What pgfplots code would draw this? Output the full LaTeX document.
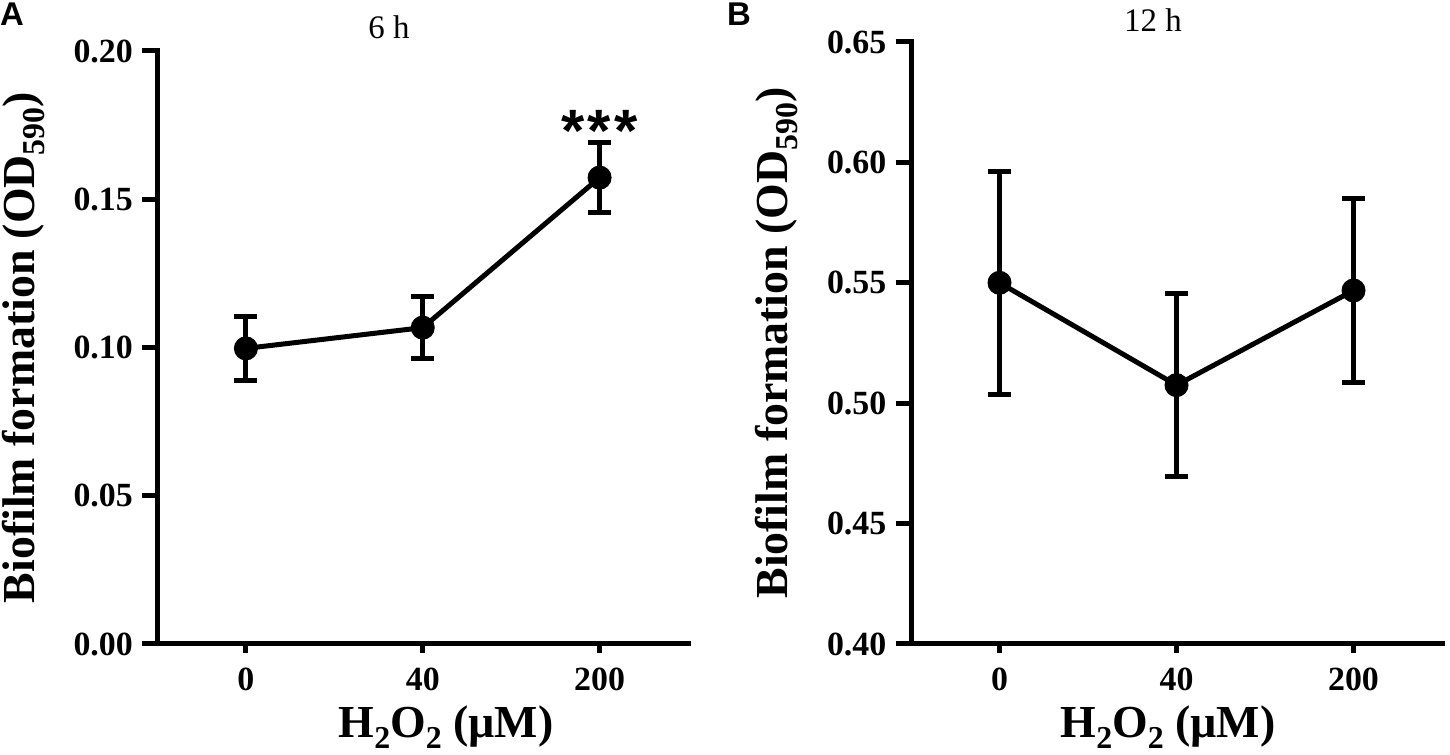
\documentclass[border=0pt]{standalone}
\usepackage{fontspec}
\setmainfont{Liberation Serif}
\newfontfamily\arialfont{Liberation Sans}
\usepackage{pgfplots}
\pgfplotsset{compat=1.18}
\newcommand\lab{\fontsize{46}{46}\selectfont\bfseries}
\newcommand\sub[1]{\raisebox{-0.22em}{\fontsize{32}{32}\selectfont\bfseries #1}}
\pgfplotsset{
  gp/.style={
    scale only axis,
    axis x line*=bottom,
    axis y line*=left,
    axis line style={-, line width=5bp, line cap=rect},
    tick align=outside,
    major tick length=15.5bp,
    x tick style={/pgfplots/major tick length=8.5bp},
    tick style={line width=5bp, black},
    xmin=-0.5, xmax=2.5,
    xtick={0,1,2},
    xticklabels={0,40,200},
    ticklabel style={font=\fontsize{34}{34}\selectfont\bfseries},
    /pgf/number format/assume math mode=true,
    yticklabel style={inner sep=0pt, xshift=-9bp},
    xticklabel style={inner sep=0pt, yshift=-8bp},
  },
  gpplot/.style={
    black, line width=5bp,
    mark=*, mark size=11.5bp,
    mark options={solid, fill=black, line width=1bp},
    error bars/.cd, y dir=both, y explicit,
    error bar style={line width=5bp},
    error mark=|,
    error mark options={line width=5bp, mark size=11.5bp},
  },
}
\begin{document}
\begin{tikzpicture}[x=1bp,y=1bp]
\path[use as bounding box, fill=white] (0,0) rectangle (1450,754);
\begin{axis}[gp,
  at={(157.5bp,110bp)}, anchor=south west,
  width=530.5bp, height=593bp,
  ymin=0, ymax=0.2,
  ytick={0,0.05,0.1,0.15,0.2},
  yticklabels={0.00,0.05,0.10,0.15,0.20},
  xlabel={\lab H\sub{2}O\sub{2} (µM)},
  xlabel style={at={(axis description cs:0.544,-0.1585)}, anchor=base},
  ylabel={\lab Biofilm formation (OD\sub{590})},
  ylabel style={at={(axis description cs:-0.2517,0.5)}, anchor=center},
]
\addplot[gpplot] coordinates {
  (0,0.0997) +- (0,0.0107)
  (1,0.1067) +- (0,0.0104)
  (2,0.1573) +- (0,0.0118)
};
\node[anchor=base, font=\arialfont\bfseries\fontsize{60}{60}\selectfont, inner sep=0pt] at (axis cs:2,0.1662) {*\kern3bp*\kern3bp*};
\end{axis}
\begin{axis}[gp,
  at={(911bp,110bp)}, anchor=south west,
  width=531bp, height=602bp,
  ymin=0.4, ymax=0.65,
  ytick={0.4,0.45,0.5,0.55,0.6,0.65},
  yticklabels={0.40,0.45,0.50,0.55,0.60,0.65},
  xlabel={\lab H\sub{2}O\sub{2} (µM)},
  xlabel style={at={(axis description cs:0.484,-0.1561)}, anchor=base},
  ylabel={\lab Biofilm formation (OD\sub{590})},
  ylabel style={at={(axis description cs:-0.254,0.5)}, anchor=center},
]
\addplot[gpplot] coordinates {
  (0,0.5500) +- (0,0.0462)
  (1,0.5075) +- (0,0.0380)
  (2,0.5468) +- (0,0.0384)
};
\end{axis}
\node[font=\fontsize{33}{33}\selectfont] at (389,727) {6 h};
\node[font=\fontsize{33}{33}\selectfont] at (1153,734) {12 h};
\node[anchor=north west, inner sep=0pt, font=\arialfont\bfseries\fontsize{33}{33}\selectfont] at (0,751) {A};
\node[anchor=north west, inner sep=0pt, font=\arialfont\bfseries\fontsize{33}{33}\selectfont] at (727,751) {B};
\end{tikzpicture}
\end{document}
